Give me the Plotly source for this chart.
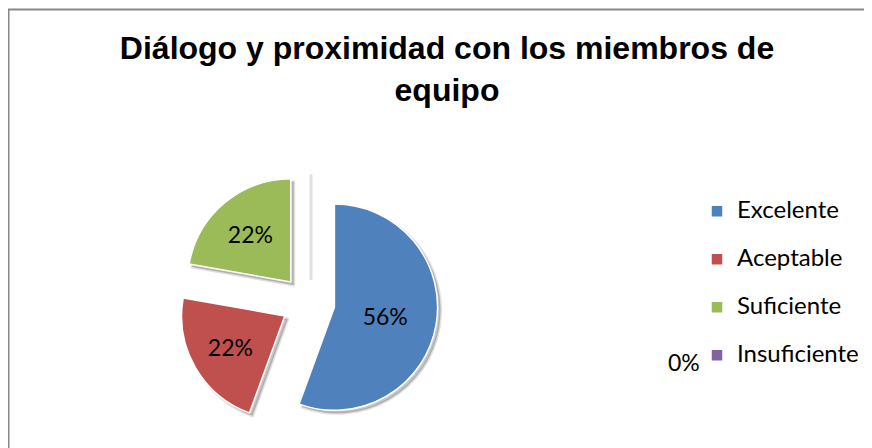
import plotly.graph_objects as go

# Datos del gráfico
labels = ["Excelente", "Aceptable", "Suficiente", "Insuficiente"]
values = [5, 2, 2, 0]
colors = ["#4F81BD", "#C0504D", "#9BBB59", "#8064A2"]
slice_text = ["%{percent:.0%}", "%{percent:.0%}", "%{percent:.0%}", ""]
zero_label = "0%"

# la página deja 8 px de margen, así que la figura mide 864x440
W, H = 864, 440
pie_x = [170 / W, 430 / W]
pie_y = [1 - 424.5 / H, 1 - 164.5 / H]
sx, sy = 3 / W, 3 / H

shadow = go.Pie(
    labels=labels,
    values=values,
    sort=False,
    direction="clockwise",
    rotation=0,
    pull=0.26,
    marker=dict(colors=["rgba(0,0,0,0.22)"] * 4,
                line=dict(color="rgba(0,0,0,0.12)", width=3)),
    textinfo="none",
    hoverinfo="skip",
    showlegend=False,
    domain=dict(x=[pie_x[0] + sx, pie_x[1] + sx], y=[pie_y[0] - sy, pie_y[1] - sy]),
)

# etiquetas de leyenda con una línea vacía debajo para separar los elementos
legend_labels = ['<span style="font-size:24px">%s</span><br> ' % l for l in labels]

pie = go.Pie(
    labels=legend_labels,
    values=values,
    sort=False,
    direction="clockwise",
    rotation=0,
    pull=0.26,
    marker=dict(colors=colors, line=dict(color="white", width=1.5)),
    texttemplate=slice_text,
    textposition="inside",
    insidetextorientation="horizontal",
    textfont=dict(family="Lato", size=23, color="black"),
    hoverinfo="label+percent",
    domain=dict(x=pie_x, y=pie_y),
)

fig = go.Figure(data=[shadow, pie])
fig.update_layout(
    width=W,
    height=H,
    margin=dict(l=0, r=0, t=0, b=0, autoexpand=False),
    paper_bgcolor="white",
    title=dict(
        text="Diálogo y proximidad con los miembros de<br>equipo",
        font=dict(family="Liberation Sans", size=32, color="black", weight="bold"),
        x=439 / W,
        xanchor="center",
        y=1 - 51 / H,
        yanchor="top",
    ),
    legend=dict(
        x=689 / W,
        y=1 - 185.5 / H,
        xanchor="left",
        yanchor="top",
        valign="top",
        font=dict(family="Lato", size=17.3, color="black"),
        traceorder="normal",
    ),
    shapes=[dict(type="rect", xref="paper", yref="paper",
                 x0=0.5 / W, x1=1.2, y0=-0.2, y1=1 - 1.5 / H,
                 line=dict(color="#878787", width=2))],
    annotations=[dict(text=zero_label, x=676 / W, y=1 - 354 / H, xref="paper", yref="paper",
                      xanchor="center", yanchor="middle", showarrow=False,
                      font=dict(family="Lato", size=23, color="black"))],
)

fig.write_html("out.html")
